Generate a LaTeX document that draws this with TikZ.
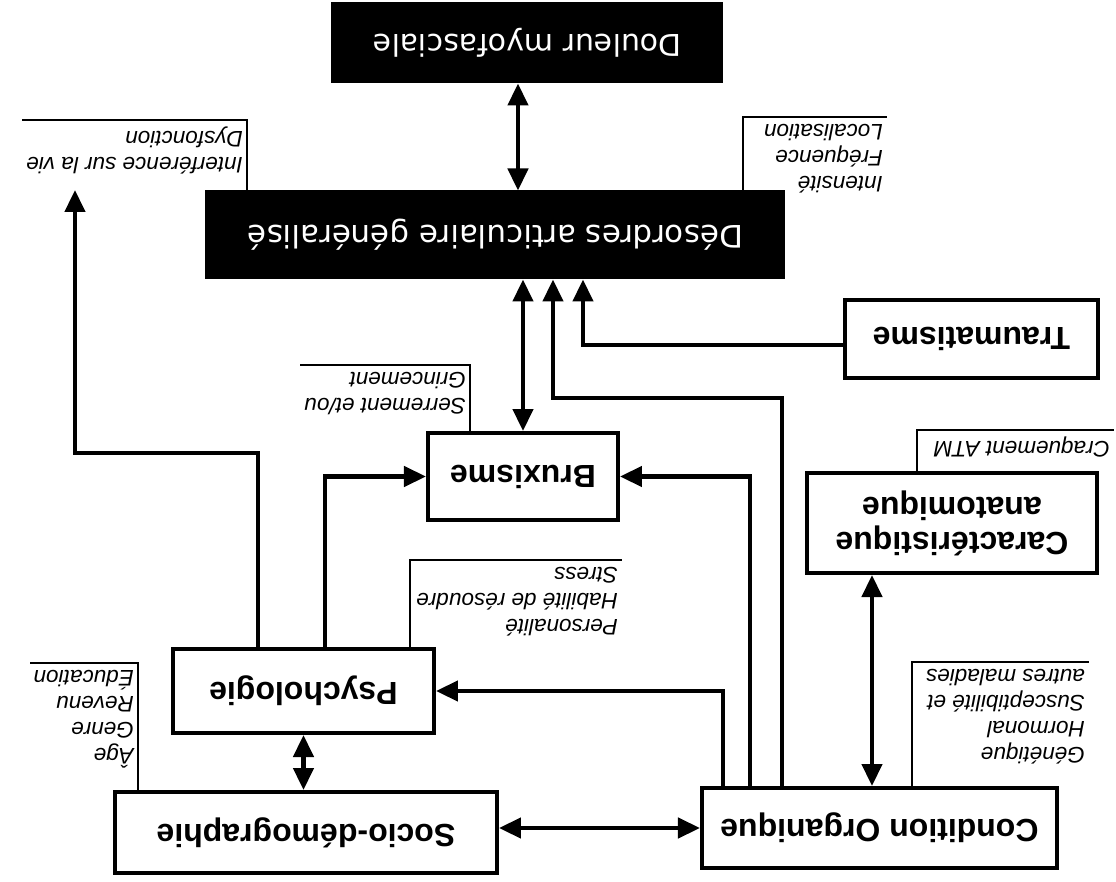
\documentclass[tikz,border=0pt]{standalone}
\usepackage{fontspec}
\setmainfont{Liberation Sans}
\newfontfamily\issuefont{DejaVu Sans}
\usetikzlibrary{arrows.meta}

\tikzset{
  facteur/.style={draw, line width=4pt, fill=white, align=center,
    inner sep=0pt, font=\fontsize{32}{35}\selectfont\bfseries},
  issue/.style={draw, line width=3pt, fill=black, text=white,
    inner sep=0pt, font=\issuefont\fontsize{30}{34}\selectfont},
  note/.style={align=left, inner xsep=4pt, inner ysep=7pt,
    font=\fontsize{22.5}{26}\selectfont\itshape},
  lien/.style={line width=4.5pt, -{Triangle[length=22pt,width=20pt]}},
  allerretour/.style={line width=4.5pt,
    {Triangle[length=22pt,width=20pt]}-{Triangle[length=22pt,width=20pt]}},
  renvoi/.style={line width=1.8pt},
}

\begin{document}
\begin{tikzpicture}[x=1pt, y=1pt, rotate=180, transform shape]

    \fill[white] (0,0) rectangle (1116,882);
    \useasboundingbox (0,0) rectangle (1116,882);

    % facteurs
    \node[facteur, minimum width=355pt, minimum height=80pt] (condition) at (236.5,828) {Condition Organique};
    \node[facteur, minimum width=382pt, minimum height=81pt] (socio) at (810,832.5) {Socio-démographie};
    \node[facteur, minimum width=261pt, minimum height=84pt] (psycho) at (812.5,691) {Psychologie};
    \node[facteur, minimum width=290pt, minimum height=100pt] (carac) at (164,523) {Caractéristique\\anatomique};
    \node[facteur, minimum width=253pt, minimum height=78pt] (trauma) at (144.5,339) {Traumatisme};
    \node[facteur, minimum width=190pt, minimum height=87pt] (bruxisme) at (593,476.5) {Bruxisme};

    % issues
    \node[issue, minimum width=577pt, minimum height=86pt, font=\issuefont\fontsize{31}{34}\selectfont] (desordres) at (620.5,235) {Désordres articulaire généralisé};
    \node[issue, minimum width=389pt, minimum height=78pt] (douleur) at (588.5,43) {Douleur myofasciale};

    % notes
    \coordinate (vie) at (1041,190);
    \node[note, anchor=south west] (intensite) at (229,117) {Intensité\\Fréquence\\Localisation};
    \node[note, anchor=south west] (interference) at (869,120) {Interférence sur la vie\\Dysfonction};
    \node[note, anchor=south west] (serrement) at (646,365) {Serrement et/ou\\Grincement};
    \node[note, anchor=south west] (craquement) at (2,430) {Craquement ATM};
    \node[note, anchor=south west] (genetique) at (27,662) {Génétique\\Hormonal\\Susceptibilité et\\autres maladies};
    \node[note, anchor=south west] (personalite) at (494,560) {Personalité\\Habilité de résoudre\\Stress};
    \node[note, anchor=south west] (age) at (978,663) {Âge\\Genre\\Revenu\\Éducation};

    \draw[renvoi] ([xshift=-247.5pt]desordres.south) |- (intensite.south west);
    \draw[renvoi] ([xshift=248.5pt]desordres.south) |- (interference.south east);
    \draw[renvoi] ([xshift=53pt]bruxisme.south) |- (serrement.south east);
    \draw[renvoi] ([xshift=35pt]carac.south) |- (craquement.south west);
    \draw[renvoi] ([xshift=-32.5pt]condition.south) |- (genetique.south west);
    \draw[renvoi] ([xshift=-106.5pt]psycho.south) |- (personalite.south west);
    \draw[renvoi] ([xshift=168pt]socio.south) |- (age.south east);

    % liens
    \draw[allerretour] (condition.east) -- (condition.east -| socio.west);
    \draw[allerretour] (psycho.north) -- (psycho.north |- socio.south);
    \draw[allerretour] ([xshift=7.5pt]condition.south) -- ([xshift=7.5pt]condition.south |- carac.north);
    \draw[lien] ([xshift=156.5pt]condition.south) |- (psycho.west);
    \draw[lien] ([xshift=129.5pt]condition.south) |- (bruxisme.west);
    \draw[lien] ([xshift=97.5pt]condition.south) -- ++(0,-388) -| ([xshift=-57.5pt]desordres.north);
    \draw[lien] ([xshift=-21.5pt]psycho.south) |- (bruxisme.east);
    \draw[lien] ([xshift=45.5pt]psycho.south) -- ++(0,-194) -| (vie);
    \draw[lien] ([yshift=6pt]trauma.east) -| ([xshift=-87.5pt]desordres.north);
    \draw[allerretour] (bruxisme.south) -- (bruxisme.south |- desordres.north);
    \draw[allerretour] ([xshift=9.5pt]douleur.north) -- ([xshift=9.5pt]douleur.north |- desordres.south);

\end{tikzpicture}
\end{document}
